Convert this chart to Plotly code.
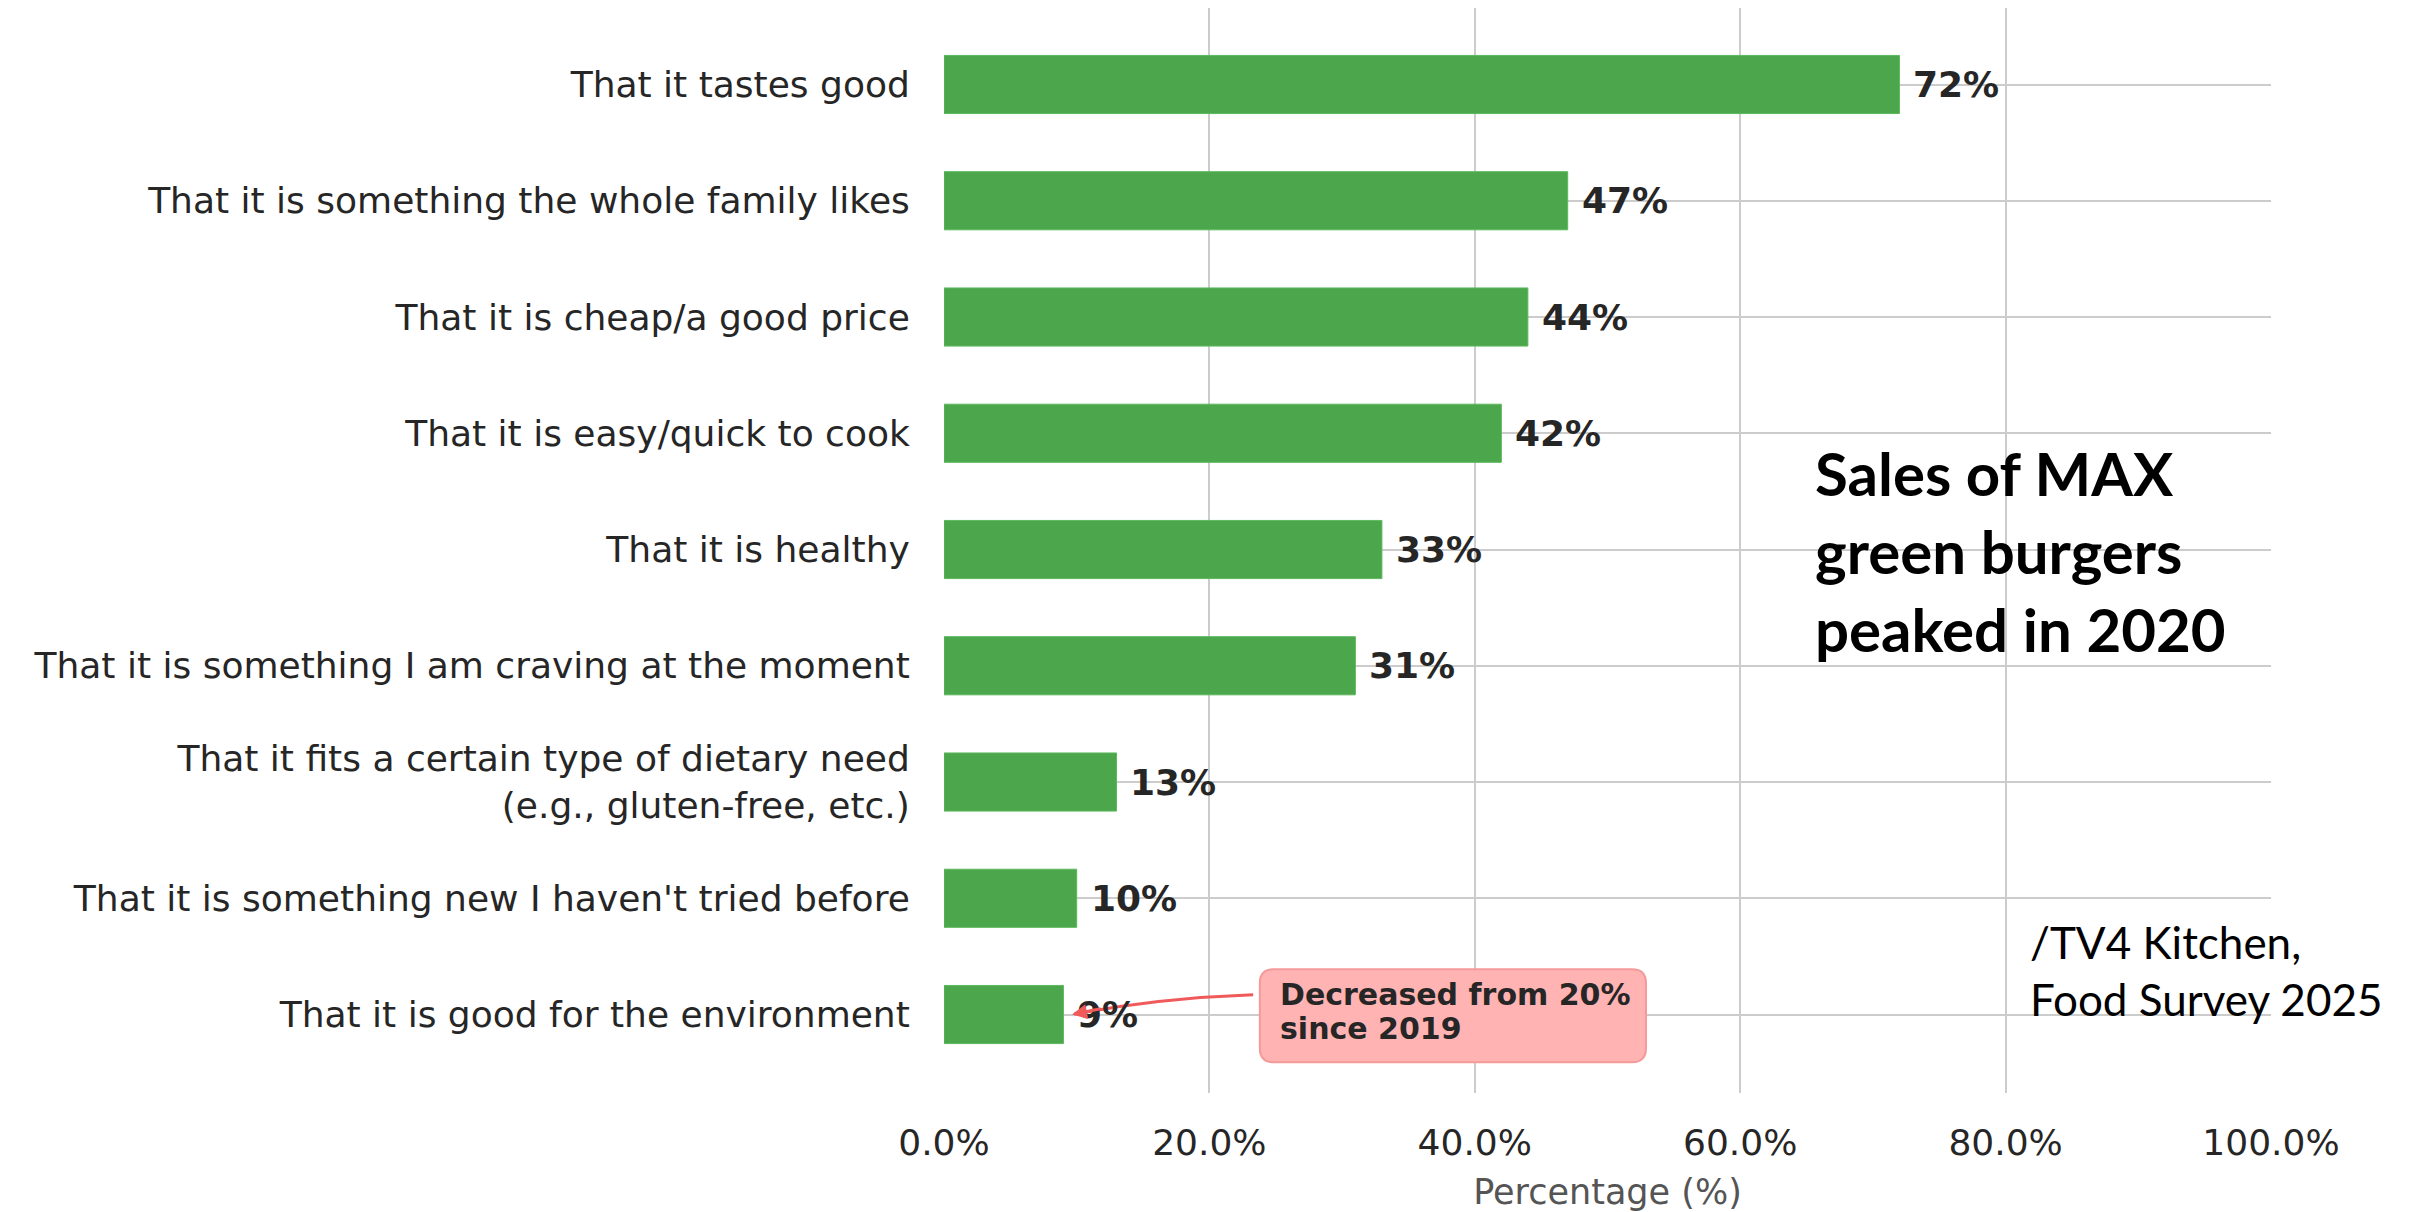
import plotly.graph_objects as go

categories = [
    "That it tastes good",
    "That it is something the whole family likes",
    "That it is cheap/a good price",
    "That it is easy/quick to cook",
    "That it is healthy",
    "That it is something I am craving at the moment",
    "That it fits a certain type of dietary need<br>(e.g., gluten-free, etc.)",
    "That it is something new I haven't tried before",
    "That it is good for the environment",
]
values = [72, 47, 44, 42, 33, 31, 13, 10, 9]
value_labels = ["72%", "47%", "44%", "42%", "33%", "31%", "13%", "10%", "9%"]
x_tickvals = [0, 20, 40, 60, 80, 100]
x_ticktext = ["0.0%", "20.0%", "40.0%", "60.0%", "80.0%", "100.0%"]

positions = list(range(len(categories)))

fig = go.Figure()
fig.add_trace(go.Bar(
    x=values, y=positions, orientation="h", width=0.5,
    marker=dict(color="#4ca64c", line=dict(color="#5cb85c", width=1)),
    showlegend=False, hoverinfo="skip",
))

for p, v, t in zip(positions, values, value_labels):
    fig.add_annotation(x=v + 0.9, y=p, text=t, showarrow=False, xanchor="left", yanchor="middle",
                       font=dict(family="DejaVu Sans", size=36, color="#262626", weight="bold"))

# callout box (rounded)
x0, x1, y0, y1 = 23.8, 52.9, 7.61, 8.41
rx, ry = 1.05, 0.12
path = (f"M {x0+rx},{y0} L {x1-rx},{y0} Q {x1},{y0} {x1},{y0+ry} L {x1},{y1-ry} Q {x1},{y1} {x1-rx},{y1} "
        f"L {x0+rx},{y1} Q {x0},{y1} {x0},{y1-ry} L {x0},{y0+ry} Q {x0},{y0} {x0+rx},{y0} Z")
fig.add_shape(type="path", path=path, xref="x", yref="y", fillcolor="#ffb3b3",
              line=dict(color="#f59a9a", width=2), layer="above")
fig.add_annotation(x=25.2, y=7.83, text="Decreased from 20%", showarrow=False, xanchor="left", yanchor="middle",
                   font=dict(family="DejaVu Sans", size=30, color="#262626", weight="bold"))
fig.add_annotation(x=25.2, y=8.12, text="since 2019", showarrow=False, xanchor="left", yanchor="middle",
                   font=dict(family="DejaVu Sans", size=30, color="#262626", weight="bold"))

# curved arrow
fig.add_shape(type="path", path="M 23.3,7.83 Q 16.4,7.857 9.8,7.995", xref="x", yref="y",
              line=dict(color="#f05a5a", width=3), layer="above")
fig.add_annotation(x=9.65, y=8.0, ax=30, ay=-6, text="", showarrow=True, arrowhead=2, arrowsize=1,
                   arrowwidth=3, arrowcolor="#f05a5a", standoff=0)

fig.add_annotation(x=65.5, y=4.01, text="Sales of MAX<br>green burgers<br>peaked in 2020", showarrow=False,
                   xanchor="left", yanchor="middle", align="left",
                   font=dict(family="Lato", size=60, color="black", weight="bold"))
fig.add_annotation(x=81.7, y=7.62, text="/TV4 Kitchen,<br>Food Survey 2025", showarrow=False,
                   xanchor="left", yanchor="middle", align="left",
                   font=dict(family="Lato", size=44, color="black"))

fig.update_layout(
    width=2420, height=1212,
    margin=dict(l=936, r=157, t=0, b=127),
    plot_bgcolor="white", paper_bgcolor="white",
    font=dict(family="DejaVu Sans", color="#262626"),
    xaxis=dict(range=[0, 100], tickvals=x_tickvals, ticktext=x_ticktext, automargin=False,
               showgrid=True, gridcolor="#cccccc", gridwidth=2, zeroline=False, showline=False,
               ticks="outside", ticklen=18, tickcolor="rgba(0,0,0,0)",
               tickfont=dict(size=36, color="#262626"),
               title=dict(text="Percentage (%)", font=dict(size=35, color="#555555"), standoff=17)),
    yaxis=dict(range=[8.675, -0.658], tickvals=positions, ticktext=categories, automargin=False,
               showgrid=True, gridcolor="#cccccc", gridwidth=2, zeroline=False, showline=False,
               ticks="outside", ticklen=26, tickcolor="rgba(0,0,0,0)",
               tickfont=dict(size=36, color="#262626")),
)

fig.write_html("out.html")
